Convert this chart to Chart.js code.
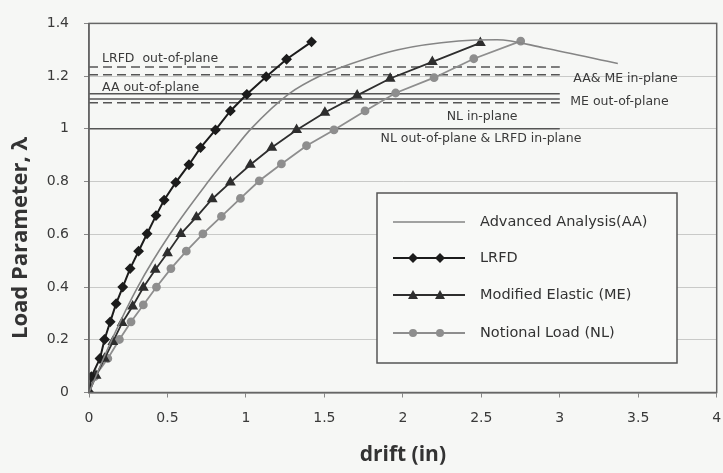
<!DOCTYPE html>
<html>
<head>
<meta charset="utf-8">
<script src="https://cdn.jsdelivr.net/npm/chart.js@4.4.0/dist/chart.umd.min.js"></script>
<style>
  html, body { margin: 0; padding: 0; background: #f6f7f5; }
  #wrap { width: 723px; height: 473px; }
</style>
</head>
<body>
<div id="wrap"><canvas id="drift" width="723" height="473"></canvas></div>
<script>
// curves: drift (in) and load parameter
var aaX = [0, 0.145, 0.31, 0.515, 0.76, 0.916, 1.032, 1.274, 1.486, 1.613, 1.97, 2.355, 2.6, 2.9, 3.37];
var aaY = [0, 0.2, 0.4, 0.6, 0.8, 0.917, 1.0, 1.133, 1.205, 1.235, 1.30, 1.333, 1.338, 1.307, 1.248];

var lrfdX = [0, 0.015, 0.07, 0.099, 0.135, 0.173, 0.215, 0.262, 0.316, 0.37, 0.427, 0.479, 0.553, 0.637, 0.711, 0.806, 0.901, 1.006, 1.129, 1.259, 1.418];
var lrfdY = [0, 0.06, 0.129, 0.201, 0.268, 0.337, 0.4, 0.47, 0.536, 0.602, 0.671, 0.73, 0.797, 0.864, 0.929, 0.996, 1.068, 1.131, 1.198, 1.264, 1.33];

var meX = [0, 0.045, 0.099, 0.152, 0.211, 0.278, 0.346, 0.422, 0.5, 0.585, 0.684, 0.785, 0.901, 1.028, 1.165, 1.323, 1.503, 1.709, 1.919, 2.188, 2.494];
var meY = [0, 0.064, 0.129, 0.192, 0.264, 0.327, 0.398, 0.466, 0.529, 0.602, 0.665, 0.734, 0.797, 0.864, 0.929, 0.996, 1.062, 1.127, 1.191, 1.254, 1.326];

var nlX = [0, 0.036, 0.12, 0.194, 0.268, 0.346, 0.43, 0.522, 0.62, 0.726, 0.844, 0.965, 1.085, 1.226, 1.386, 1.561, 1.759, 1.954, 2.199, 2.452, 2.751];
var nlY = [0, 0.06, 0.129, 0.201, 0.268, 0.332, 0.4, 0.47, 0.536, 0.602, 0.668, 0.736, 0.803, 0.867, 0.936, 0.996, 1.068, 1.136, 1.194, 1.266, 1.333];

// capacity levels (horizontal lines from drift 0 to 3)
var refNames = ["LRFD  out-of-plane", "AA& ME in-plane", "AA out-of-plane", "ME out-of-plane", "NL in-plane", "NL out-of-plane & LRFD in-plane"];
var refValues = [1.235, 1.205, 1.133, 1.113, 1.099, 1.0];
var refDashed = [true, true, false, false, true, false];
var refStart = 0, refEnd = 3;

var xTicks = [0, 0.5, 1, 1.5, 2, 2.5, 3, 3.5, 4];
var yTicks = [0, 0.2, 0.4, 0.6, 0.8, 1, 1.2, 1.4];

function pts(xs, ys) {
    return xs.map(function (x, i) { return { x: x, y: ys[i] }; });
}

var FONT = "'DejaVu Sans', sans-serif";
var TITLE_FONT = "'Open Sans', sans-serif";

// where each level label sits (data x, pixel offset from its line)
var refLabelPos = [
    { x: 0.083, dy: -8, align: 'left' },
    { x: 3.086, dy: 3.5, align: 'left' },
    { x: 0.083, dy: -6, align: 'left' },
    { x: 3.067, dy: 2.5, align: 'left' },
    { x: 2.505, dy: 13.5, align: 'center' },
    { x: 1.858, dy: 9.5, align: 'left' }
];

var datasets = [
    { label: 'Advanced Analysis(AA)', data: pts(aaX, aaY), borderColor: '#858585', borderWidth: 1.6,
      pointRadius: 0, cubicInterpolationMode: 'monotone', mark: 'none' },
    { label: 'LRFD', data: pts(lrfdX, lrfdY), borderColor: '#1c1c1c', backgroundColor: '#1c1c1c', borderWidth: 2,
      pointStyle: 'rectRot', pointRadius: 4, mark: 'diamond' },
    { label: 'Modified Elastic (ME)', data: pts(meX, meY), borderColor: '#2e2e2e', backgroundColor: '#2e2e2e', borderWidth: 1.8,
      pointStyle: 'triangle', pointRadius: 4.5, mark: 'triangle' },
    { label: 'Notional Load (NL)', data: pts(nlX, nlY), borderColor: '#8e8e8e', backgroundColor: '#8e8e8e', borderWidth: 1.8,
      pointStyle: 'circle', pointRadius: 3.5, mark: 'circle' }
];

refValues.forEach(function (v, i) {
    datasets.push({
        label: refNames[i],
        data: [{ x: refStart, y: v }, { x: refEnd, y: v }],
        borderColor: '#555',
        borderWidth: 1.5,
        borderDash: refDashed[i] ? [9, 5] : [],
        pointRadius: 0
    });
});

function drawMark(ctx, kind, x, y, color) {
    ctx.fillStyle = color;
    ctx.beginPath();
    if (kind === 'diamond') {
        ctx.moveTo(x, y - 5); ctx.lineTo(x + 5, y); ctx.lineTo(x, y + 5); ctx.lineTo(x - 5, y);
    } else if (kind === 'triangle') {
        ctx.moveTo(x, y - 5); ctx.lineTo(x + 5, y + 4); ctx.lineTo(x - 5, y + 4);
    } else if (kind === 'circle') {
        ctx.arc(x, y, 4, 0, Math.PI * 2);
    }
    ctx.closePath();
    ctx.fill();
}

var extras = {
    id: 'extras',
    beforeDraw: function (chart) {
        var ctx = chart.ctx;
        ctx.save();
        ctx.fillStyle = '#f6f7f5';
        ctx.fillRect(0, 0, chart.width, chart.height);
        ctx.restore();
    },
    afterDatasetsDraw: function (chart) {
        var ctx = chart.ctx, xs = chart.scales.x, ys = chart.scales.y, a = chart.chartArea;
        ctx.save();

        // level labels
        ctx.font = '12.5px ' + FONT;
        ctx.fillStyle = '#3a3a3a';
        ctx.textBaseline = 'middle';
        refNames.forEach(function (name, i) {
            var p = refLabelPos[i];
            ctx.textAlign = p.align;
            ctx.fillText(name, xs.getPixelForValue(p.x), ys.getPixelForValue(refValues[i]) + p.dy);
        });

        // plot frame
        ctx.strokeStyle = '#666';
        ctx.lineWidth = 1.5;
        ctx.strokeRect(a.left, a.top, a.right - a.left, a.bottom - a.top);

        // legend box
        var bx = 377, by = 193, bw = 300, bh = 170;
        ctx.fillStyle = '#f8f9f7';
        ctx.fillRect(bx, by, bw, bh);
        ctx.strokeStyle = '#555';
        ctx.lineWidth = 1.5;
        ctx.strokeRect(bx, by, bw, bh);
        ctx.font = '14.5px ' + FONT;
        ctx.textAlign = 'left';
        var rows = [222, 258, 295, 333];
        for (var i = 0; i < 4; i++) {
            var ds = chart.data.datasets[i], ry = rows[i];
            ctx.strokeStyle = ds.borderColor;
            ctx.lineWidth = ds.borderWidth;
            ctx.beginPath();
            ctx.moveTo(393, ry);
            ctx.lineTo(465, ry);
            ctx.stroke();
            if (ds.mark !== 'none') {
                drawMark(ctx, ds.mark, 413, ry, ds.borderColor);
                drawMark(ctx, ds.mark, 440, ry, ds.borderColor);
            }
            ctx.fillStyle = '#333';
            ctx.fillText(ds.label, 480, ry);
        }

        // axis titles
        ctx.fillStyle = '#333';
        ctx.font = 'bold 21px ' + TITLE_FONT;
        ctx.textAlign = 'center';
        ctx.fillText('drift (in)', (a.left + a.right) / 2, 455);
        ctx.translate(21, 238);
        ctx.rotate(-Math.PI / 2);
        ctx.font = 'bold 22px ' + TITLE_FONT;
        ctx.fillText('Load Parameter, \u03bb', 0, 0);
        ctx.restore();
    }
};

function plain(v) { return String(v); }

var ctx = document.getElementById('drift').getContext('2d');
var chart = new Chart(ctx, {
    type: 'line',
    data: { datasets: datasets },
    options: {
        responsive: false,
        animation: false,
        devicePixelRatio: 1,
        layout: { padding: { top: 22, right: 4, left: 0, bottom: 0 } },
        plugins: { legend: { display: false }, tooltip: { enabled: false } },
        scales: {
            x: {
                type: 'linear', min: 0, max: 4,
                afterBuildTicks: function (s) { s.ticks = xTicks.map(function (v) { return { value: v }; }); },
                afterFit: function (s) { s.height = 80.5; s.paddingLeft = 0; s.paddingRight = 0; },
                grid: { drawOnChartArea: false, tickLength: 5, color: '#888' },
                border: { color: '#666', width: 1.5 },
                ticks: { font: { family: FONT, size: 14 }, color: '#3a3a3a', padding: 12, callback: plain }
            },
            y: {
                type: 'linear', min: 0, max: 1.4,
                afterBuildTicks: function (s) { s.ticks = yTicks.map(function (v) { return { value: v }; }); },
                afterFit: function (s) { s.width = 89; },
                grid: { color: '#c9cac8', lineWidth: 1, tickLength: 5, tickColor: '#888' },
                border: { color: '#666', width: 1.5 },
                ticks: { font: { family: FONT, size: 14 }, color: '#3a3a3a', padding: 15, callback: plain }
            }
        }
    },
    plugins: [extras]
});
</script>
</body>
</html>
